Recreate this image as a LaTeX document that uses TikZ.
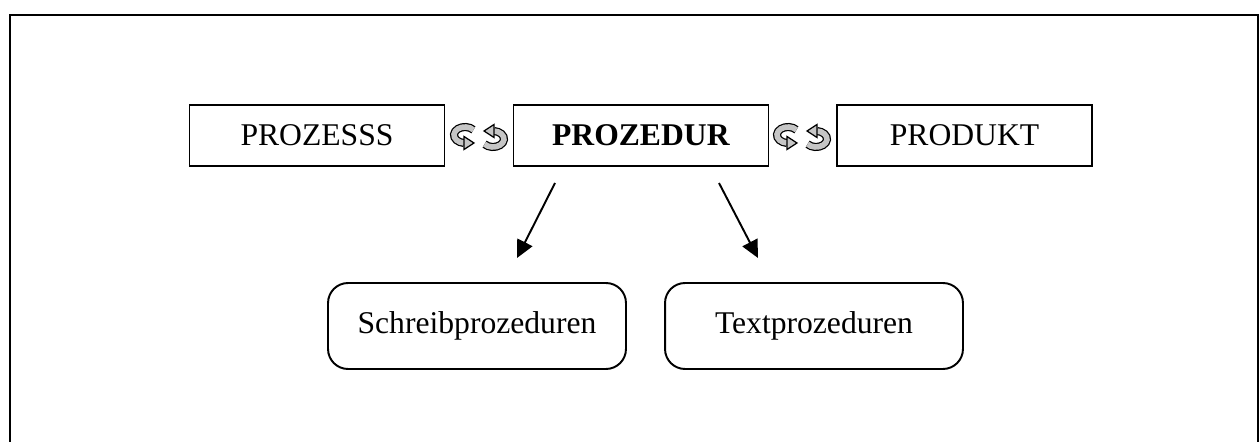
\documentclass[tikz,border=0pt]{standalone}
\usepackage{fontspec}
\setmainfont{Liberation Serif}
\usetikzlibrary{arrows.meta}
\tikzset{
  box/.style={draw,line width=1.1pt,minimum width=5.1cm,minimum height=1.22cm,inner sep=0pt,font=\fontsize{18}{21}\selectfont},
  roundbox/.style={box,rounded corners=0.4cm,minimum width=5.96cm,minimum height=1.72cm},
  turnarrow/.pic={
    \draw[line width=0.7pt,double=gray!45,double distance=3.2pt] (8.43,-5.14) arc[start angle=-40,end angle=-265,x radius=11,y radius=8];
    \filldraw[fill=gray!45,line width=0.7pt] (-1,1.5) -- (-1,14.5) -- (9,8) -- cycle;
  }
}
\begin{document}
\begin{tikzpicture}[x=0.02cm,y=-0.02cm]
        \clip (0,0) rectangle (1259,442);
        \draw[line width=1.7pt] (10,15) rectangle (1258,480);
        \node[box] (prozess) at (317,135.5) {PROZESSS};
        \node[box] (prozedur) at (641,135.5) {\textbf{PROZEDUR}};
        \node[box] (produkt) at (964.5,135.5) {PRODUKT};
        \pic at (465,135) {turnarrow};
        \pic[rotate=180] at (493,139) {turnarrow};
        \pic at (788,135) {turnarrow};
        \pic[rotate=180] at (816,139) {turnarrow};
        \node[roundbox] (schreib) at (477,326) {Schreibprozeduren};
        \node[roundbox] (text) at (814,326) {Textprozeduren};
        \coordinate (l1) at (555,183); \coordinate (l2) at (517,258);
        \coordinate (r1) at (719,183); \coordinate (r2) at (758,258);
        \draw[line width=1.1pt,-{Triangle[length=10pt,width=9.5pt]}] (l1)--(l2);
        \draw[line width=1.1pt,-{Triangle[length=10pt,width=9.5pt]}] (r1)--(r2);
    \end{tikzpicture}
\end{document}
